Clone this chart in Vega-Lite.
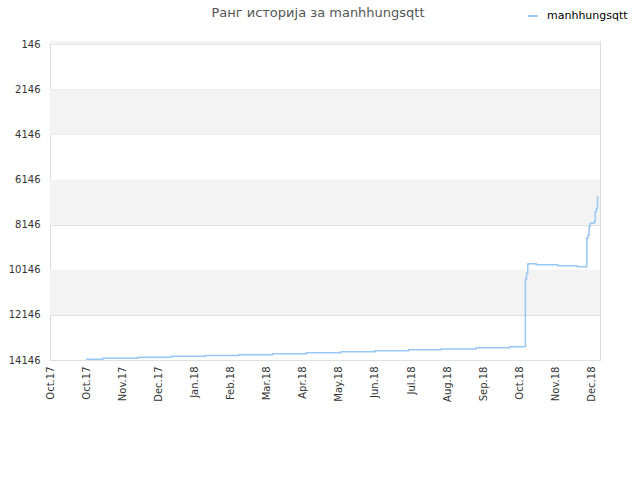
{
  "$schema": "https://vega.github.io/schema/vega-lite/v6.json",
  "width": 550,
  "height": 319,
  "autosize": "none",
  "padding": {"left": 50, "top": 41, "right": 40, "bottom": 120},
  "background": "white",
  "config": {
    "font": "DejaVu Sans",
    "view": {"stroke": "#dddddd", "strokeWidth": 1}
  },
  "title": {
    "text": "Ранг историја за manhhungsqtt",
    "fontSize": 13,
    "fontWeight": "normal",
    "color": "#555555",
    "font": "DejaVu Sans",
    "offset": -10,
    "dx": -7
  },
  "layer": [
    {
      "data": {"values": [
        {"lo": 0, "hi": 146},
        {"lo": 2146, "hi": 4146},
        {"lo": 6146, "hi": 8146},
        {"lo": 10146, "hi": 12146}
      ]},
      "mark": {"type": "rect", "color": "#f3f3f3"},
      "encoding": {
        "y": {"field": "lo", "type": "quantitative", "scale": {"domain": [0, 14146], "reverse": true, "nice": false, "zero": false},
          "axis": {"values": [146, 2146, 4146, 6146, 8146, 10146, 12146, 14146], "format": "d", "title": null, "domain": false, "ticks": false, "labelPadding": 10, "labelFontSize": 10, "labelColor": "#333333", "gridColor": "#e0e0e0", "labelFont": "DejaVu Sans"}},
        "y2": {"field": "hi"}
      }
    },
    {
      "data": {"values": [
        {"date": "2017-10-31", "rank": 14109, "name": "manhhungsqtt"},
        {"date": "2017-11-14", "rank": 14069, "name": "manhhungsqtt"},
        {"date": "2017-12-13", "rank": 14024, "name": "manhhungsqtt"},
        {"date": "2018-01-10", "rank": 13980, "name": "manhhungsqtt"},
        {"date": "2018-02-07", "rank": 13945, "name": "manhhungsqtt"},
        {"date": "2018-03-07", "rank": 13909, "name": "manhhungsqtt"},
        {"date": "2018-04-04", "rank": 13865, "name": "manhhungsqtt"},
        {"date": "2018-05-02", "rank": 13821, "name": "manhhungsqtt"},
        {"date": "2018-05-31", "rank": 13776, "name": "manhhungsqtt"},
        {"date": "2018-06-28", "rank": 13732, "name": "manhhungsqtt"},
        {"date": "2018-07-26", "rank": 13692, "name": "manhhungsqtt"},
        {"date": "2018-08-22", "rank": 13656, "name": "manhhungsqtt"},
        {"date": "2018-09-20", "rank": 13608, "name": "manhhungsqtt"},
        {"date": "2018-10-18", "rank": 13563, "name": "manhhungsqtt"},
        {"date": "2018-10-31", "rank": 10553, "name": "manhhungsqtt"},
        {"date": "2018-11-01", "rank": 10300, "name": "manhhungsqtt"},
        {"date": "2018-11-02", "rank": 9888, "name": "manhhungsqtt"},
        {"date": "2018-11-03", "rank": 9874, "name": "manhhungsqtt"},
        {"date": "2018-11-09", "rank": 9919, "name": "manhhungsqtt"},
        {"date": "2018-11-27", "rank": 9963, "name": "manhhungsqtt"},
        {"date": "2018-12-13", "rank": 10007, "name": "manhhungsqtt"},
        {"date": "2018-12-21", "rank": 8748, "name": "manhhungsqtt"},
        {"date": "2018-12-22", "rank": 8602, "name": "manhhungsqtt"},
        {"date": "2018-12-23", "rank": 8203, "name": "manhhungsqtt"},
        {"date": "2018-12-24", "rank": 8083, "name": "manhhungsqtt"},
        {"date": "2018-12-27", "rank": 8025, "name": "manhhungsqtt"},
        {"date": "2018-12-28", "rank": 7569, "name": "manhhungsqtt"},
        {"date": "2018-12-29", "rank": 7418, "name": "manhhungsqtt"},
        {"date": "2018-12-30", "rank": 6872, "name": "manhhungsqtt"}
      ]},
      "mark": {"type": "line", "interpolate": "step-after", "strokeWidth": 1.5},
      "encoding": {
        "x": {"field": "date", "type": "temporal",
          "scale": {"type": "utc", "domain": [{"year": 2017, "month": 10, "date": 1, "utc": true}, {"year": 2019, "month": 1, "date": 1, "utc": true}], "nice": false},
          "axis": {
            "title": null, "grid": false, "domain": false, "ticks": false,
            "labelExpr": "utcFormat(datum.value, '%b.%y')",
            "labelAngle": -90, "labelAlign": "right", "labelBaseline": "middle",
            "labelPadding": 6, "labelFontSize": 10, "labelColor": "#333333", "labelFont": "DejaVu Sans",
            "labelOverlap": false, "labelBound": false, "labelFlush": false,
            "values": [
              {"year": 2017, "month": 10, "date": 1, "utc": true},
              {"year": 2017, "month": 10, "date": 31, "utc": true},
              {"year": 2017, "month": 11, "date": 30, "utc": true},
              {"year": 2017, "month": 12, "date": 30, "utc": true},
              {"year": 2018, "month": 1, "date": 29, "utc": true},
              {"year": 2018, "month": 2, "date": 28, "utc": true},
              {"year": 2018, "month": 3, "date": 30, "utc": true},
              {"year": 2018, "month": 4, "date": 29, "utc": true},
              {"year": 2018, "month": 5, "date": 29, "utc": true},
              {"year": 2018, "month": 6, "date": 28, "utc": true},
              {"year": 2018, "month": 7, "date": 28, "utc": true},
              {"year": 2018, "month": 8, "date": 27, "utc": true},
              {"year": 2018, "month": 9, "date": 26, "utc": true},
              {"year": 2018, "month": 10, "date": 26, "utc": true},
              {"year": 2018, "month": 11, "date": 25, "utc": true},
              {"year": 2018, "month": 12, "date": 25, "utc": true}
            ]
          }},
        "y": {"field": "rank", "type": "quantitative"},
        "color": {"field": "name", "type": "nominal",
          "scale": {"range": ["#99c8f5"]},
          "legend": {"orient": "none", "legendX": 477, "legendY": -31, "title": null, "symbolType": "stroke", "symbolStrokeWidth": 2, "symbolSize": 100, "labelFontSize": 11, "labelColor": "#000000", "labelFont": "DejaVu Sans", "labelOffset": 8}}
      }
    }
  ]
}
